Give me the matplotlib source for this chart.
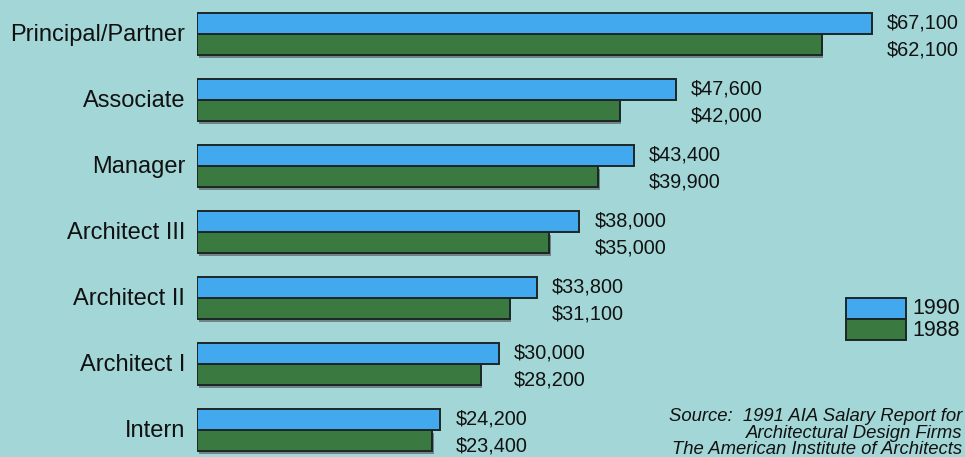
import matplotlib.pyplot as plt
from matplotlib.patches import Rectangle
import numpy as np

plt.rcParams['font.family'] = ['Liberation Sans', 'DejaVu Sans']

# Average salaries by position
positions = ["Principal/Partner", "Associate", "Manager", "Architect III",
             "Architect II", "Architect I", "Intern"]
salary_1990 = [67100, 47600, 43400, 38000, 33800, 30000, 24200]
salary_1988 = [62100, 42000, 39900, 35000, 31100, 28200, 23400]
years = ["1990", "1988"]

bg = "#a3d6d6"
blue = "#42a9ee"
green = "#3a7a40"
edge = "#1c2626"

fig = plt.figure(figsize=(9.65, 4.57), dpi=100, facecolor=bg)
# axes origin sits where the bars start, roughly 10 px per $1,000
ax = fig.add_axes([197 / 965, 0, 768 / 965, 1])
ax.set_facecolor(bg)
ax.set_xlim(0, 768 / 10.06 * 1000)
ax.set_ylim((457 - 34) / 66, -34 / 66)
ax.axis("off")

y = np.arange(len(positions))
h = 0.318

# drop shadow under each pair of bars
ax.barh(y + h / 2 + 0.05, salary_1988, height=h, left=150, color="#6f8585",
        edgecolor="none", zorder=1)
ax.barh(y - h / 2, salary_1990, height=h, color=blue, edgecolor=edge,
        linewidth=1.4, zorder=3)
ax.barh(y + h / 2, salary_1988, height=h, color=green, edgecolor=edge,
        linewidth=1.4, zorder=2)

for i, (a, b) in enumerate(zip(salary_1990, salary_1988)):
    ax.text(a + 1500, i - 0.17, f"${a:,}", ha="left", va="center",
            fontsize=14.3, color="#111")
    ax.text(a + 1500, i + 0.25, f"${b:,}", ha="left", va="center",
            fontsize=14.3, color="#111")
    fig.text(185 / 965, 1 - (35 + 66 * i) / 457, positions[i], ha="right",
             va="center", fontsize=17, color="#111")

# legend box
fig.patches.append(Rectangle((846 / 965, 1 - 319 / 457), 60 / 965, 21 / 457,
                             facecolor=blue, edgecolor=edge, linewidth=1.4,
                             transform=fig.transFigure))
fig.patches.append(Rectangle((846 / 965, 1 - 340 / 457), 60 / 965, 21 / 457,
                             facecolor=green, edgecolor=edge, linewidth=1.4,
                             transform=fig.transFigure))
fig.text(912 / 965, 1 - 308 / 457, years[0], ha="left", va="center",
         fontsize=15.5, color="#111")
fig.text(912 / 965, 1 - 331 / 457, years[1], ha="left", va="center",
         fontsize=15.5, color="#111")

source = ("Source:  1991 AIA Salary Report for\n"
          "Architectural Design Firms\n"
          "The American Institute of Architects")
fig.text(962 / 965, 1 - 433 / 457, source, ha="right", va="center",
         fontsize=13.3, style="italic", color="#111", linespacing=0.95)

fig.savefig("out.png", dpi=100, facecolor=bg)
